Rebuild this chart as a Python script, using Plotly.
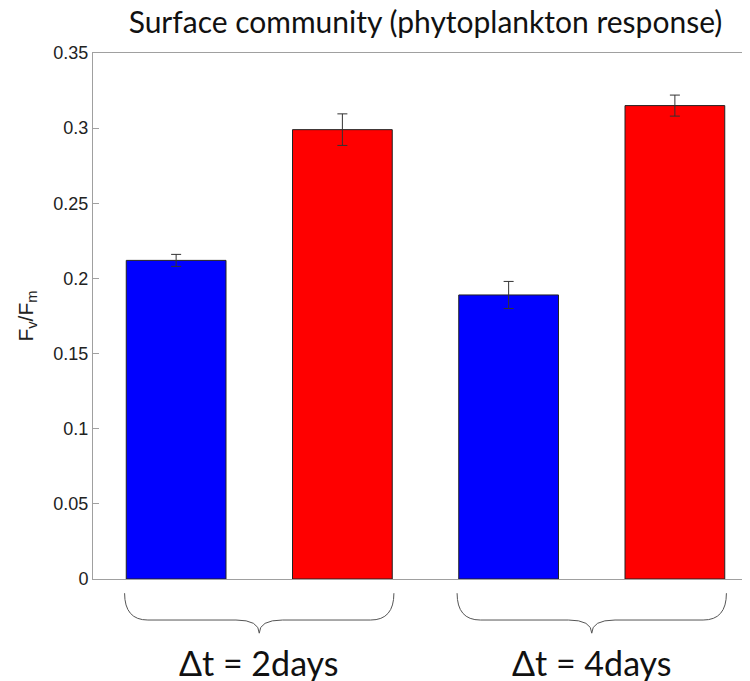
import plotly.graph_objects as go

# data
positions = [1, 2, 3, 4]
values = [0.212, 0.299, 0.189, 0.315]
errors = [0.004, 0.0105, 0.009, 0.007]
colors = ['#0000ff', '#ff0000', '#0000ff', '#ff0000']
groups = ['Δt = 2days', 'Δt = 4days']
group_centers = [1.5, 3.5]
y_ticks = [0, 0.05, 0.1, 0.15, 0.2, 0.25, 0.3, 0.35]

fig = go.Figure()

fig.add_trace(go.Bar(
    x=positions,
    y=values,
    width=0.6,
    marker=dict(color=colors, line=dict(color='#222222', width=1)),
    error_y=dict(type='data', array=errors, color='#333333',
                 thickness=1, width=5),
    showlegend=False,
))

# curly braces below each group + labels
for xc, label in zip(group_centers, groups):
    x0, x1 = xc - 0.81, xc + 0.81
    ytop, yh, ytip = -0.027, -0.078, -0.103
    d = 0.14
    path = (f"M {x0},{ytop} Q {x0},{yh} {x0 + d},{yh} "
            f"L {xc - d},{yh} Q {xc},{yh} {xc},{ytip} "
            f"Q {xc},{yh} {xc + d},{yh} "
            f"L {x1 - d},{yh} Q {x1},{yh} {x1},{ytop}")
    fig.add_shape(type='path', path=path, xref='x', yref='paper',
                  line=dict(color='#555555', width=1))
    fig.add_annotation(x=xc, y=-0.158, xref='x', yref='paper',
                       yanchor='middle', text=label, showarrow=False,
                       font=dict(family='Lato', size=34, color='#111111'))

# the page body adds an 8px offset, so margins are shifted by 8px
fig.update_layout(
    width=750, height=681,
    margin=dict(l=85, r=0, t=45, b=110),
    plot_bgcolor='white',
    paper_bgcolor='white',
    title=dict(text='Surface community (phytoplankton response)',
               x=0.5, xref='paper', y=0.979, yref='container',
               yanchor='middle',
               font=dict(family='Lato', size=30, color='#111111')),
)

fig.update_xaxes(
    range=[0.5, 4.5],
    showticklabels=False, ticks='',
    showgrid=False, zeroline=False,
    showline=True, linecolor='#a0a0a0', linewidth=1, mirror=True,
)

fig.update_yaxes(
    range=[0, 0.35],
    tickvals=y_ticks,
    ticktext=['0', '0.05', '0.1', '0.15', '0.2', '0.25', '0.3', '0.35'],
    ticks='inside', ticklen=6, tickcolor='#a0a0a0',
    showgrid=False, zeroline=False,
    showline=True, linecolor='#a0a0a0', linewidth=1,
    tickfont=dict(family='Liberation Sans', size=18, color='#222222'),
    title=dict(text='F<sub>v</sub>/F<sub>m</sub>', standoff=14,
               font=dict(family='Liberation Sans', size=21, color='#222222')),
)

fig.write_html("out.html")
